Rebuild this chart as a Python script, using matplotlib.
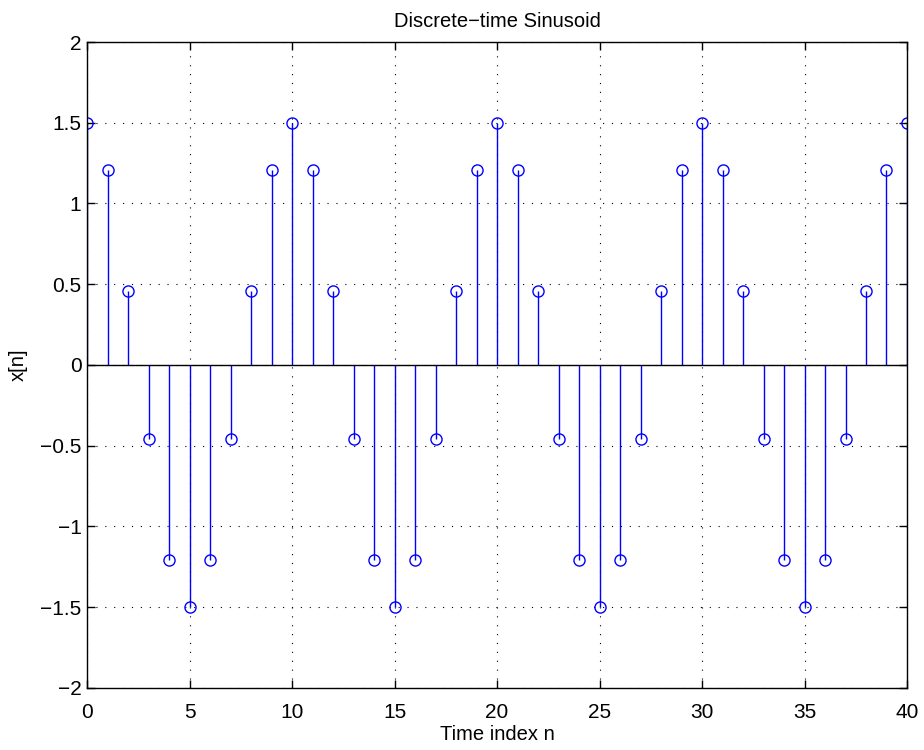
import matplotlib
matplotlib.use("Agg")
import matplotlib.pyplot as plt

plt.rcParams['font.family'] = ['Liberation Sans', 'DejaVu Sans']
plt.rcParams['axes.unicode_minus'] = True

# sample index and sample values
n = list(range(41))
x = [1.5, 1.21, 0.46, -0.46, -1.21, -1.5, -1.21, -0.46, 0.46, 1.21,
     1.5, 1.21, 0.46, -0.46, -1.21, -1.5, -1.21, -0.46, 0.46, 1.21,
     1.5, 1.21, 0.46, -0.46, -1.21, -1.5, -1.21, -0.46, 0.46, 1.21,
     1.5, 1.21, 0.46, -0.46, -1.21, -1.5, -1.21, -0.46, 0.46, 1.21,
     1.5]
xticks = [0, 5, 10, 15, 20, 25, 30, 35, 40]
yticks = [-2, -1.5, -1, -0.5, 0, 0.5, 1, 1.5, 2]
ytick_labels = ['\u22122', '\u22121.5', '\u22121', '\u22120.5', '0', '0.5', '1', '1.5', '2']

fig = plt.figure(figsize=(9.24, 7.5), dpi=100)
ax = fig.add_axes([0.0942, 0.0827, 0.8874, 0.8613])

markers, stems, base = ax.stem(n, x, linefmt='b-', markerfmt='bo', basefmt='k-')
plt.setp(markers, markerfacecolor='none', markeredgecolor='#0000ff', markersize=8, markeredgewidth=1)
plt.setp(stems, color='#0000ff', linewidth=1)
plt.setp(base, color='black', linewidth=1)

ax.set_xlim(0, 40)
ax.set_ylim(-2, 2)
ax.set_xticks(xticks)
ax.set_yticks(yticks)
ax.set_yticklabels(ytick_labels)
# MATLAB-like dotted grid
ax.grid(True, linestyle=(0, (1, 7)), color='black', linewidth=0.8)
ax.set_axisbelow(True)
ax.tick_params(direction='in', top=True, right=True, length=6, labelsize=15, width=1)
ax.tick_params(axis='x', pad=11)
ax.tick_params(axis='y', pad=4)
for s in ax.spines.values():
    s.set_linewidth(1)

ax.set_title('Discrete\u2212time Sinusoid', fontsize=14.5, pad=11)
ax.set_xlabel('Time index n', fontsize=14.5, labelpad=2)
ax.set_ylabel('x[n]', fontsize=14.5, labelpad=9)

fig.savefig('out.png', dpi=100)
